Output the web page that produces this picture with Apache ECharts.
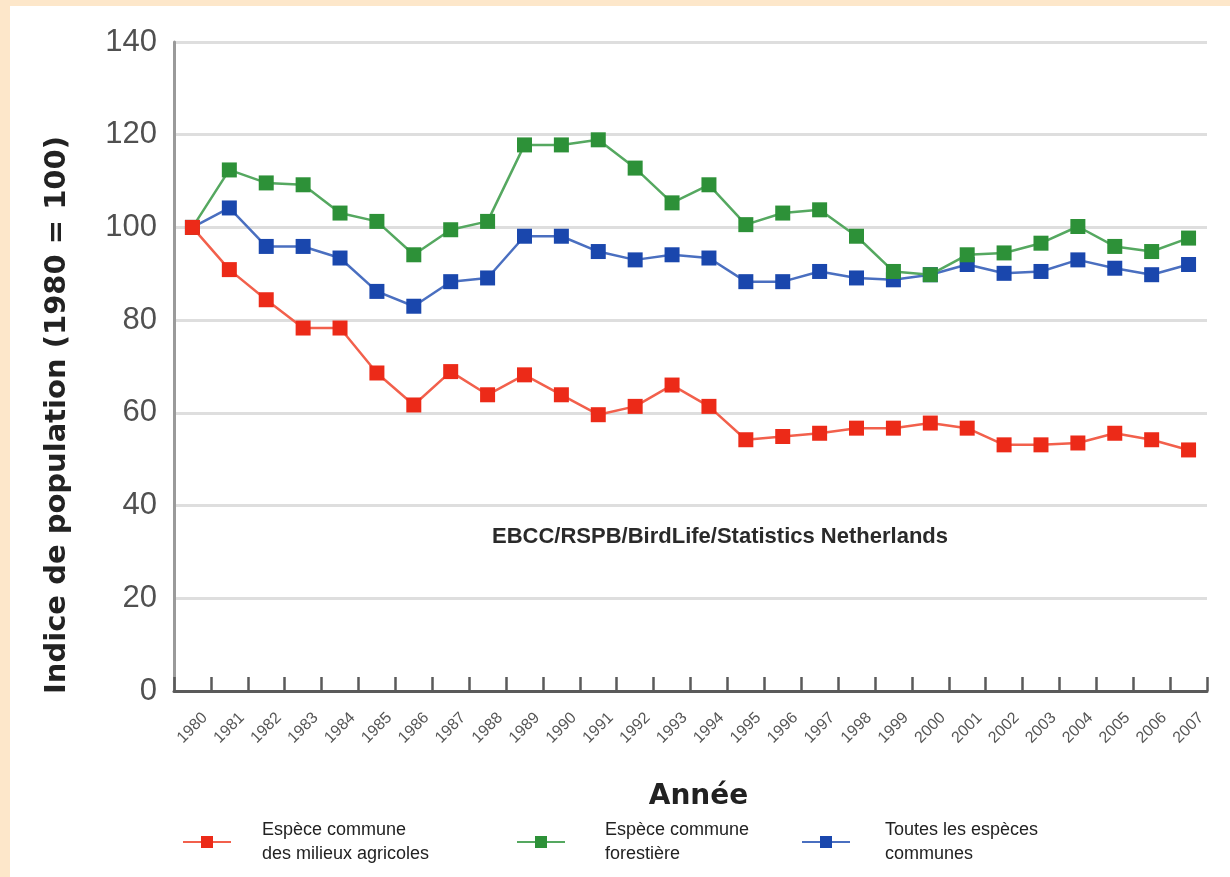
<!DOCTYPE html>
<html>
<head>
<meta charset="utf-8">
<script src="https://cdn.jsdelivr.net/npm/echarts@6/dist/echarts.min.js"></script>
<style>
  html, body { margin: 0; padding: 0; background: #ffffff; }
  #chart { width: 1230px; height: 877px; }
</style>
</head>
<body>
<div id="chart"></div>
<script>
// Years on the category axis (also the tick labels)
const years = ['1980','1981','1982','1983','1984','1985','1986','1987','1988','1989',
               '1990','1991','1992','1993','1994','1995','1996','1997','1998','1999',
               '2000','2001','2002','2003','2004','2005','2006','2007'];

// Population index per group (1980 = 100)
const agricoles = [100, 90.9, 84.4, 78.3, 78.3, 68.6, 61.7, 68.9, 63.9, 68.2,
                   63.9, 59.6, 61.4, 66.0, 61.4, 54.2, 54.9, 55.6, 56.7, 56.7,
                   57.8, 56.7, 53.1, 53.1, 53.5, 55.6, 54.2, 52.0];
const forestieres = [100, 112.4, 109.6, 109.2, 103.1, 101.3, 94.1, 99.5, 101.3, 117.8,
                     117.8, 118.9, 112.8, 105.3, 109.2, 100.6, 103.1, 103.8, 98.1, 90.5,
                     89.8, 94.1, 94.5, 96.6, 100.2, 95.9, 94.8, 97.7];
const toutes = [100, 104.2, 95.9, 95.9, 93.4, 86.2, 83.0, 88.3, 89.1, 98.1,
                98.1, 94.8, 93.0, 94.1, 93.4, 88.3, 88.3, 90.5, 89.1, 88.7,
                89.8, 92.0, 90.1, 90.5, 93.0, 91.2, 89.8, 92.0];

// Value axis range
const yMin = 0, yMax = 140, yStep = 20;

const seriesNames = {
  agri: 'Espèce commune\ndes milieux agricoles',
  foret: 'Espèce commune\nforestière',
  toutes: 'Toutes les espèces\ncommunes'
};

const chart = echarts.init(document.getElementById('chart'), null, { renderer: 'canvas' });

function lineSeries(name, data, lineColor, markColor, z) {
  return {
    name: name,
    type: 'line',
    data: data,
    z: z,
    symbol: 'rect',
    symbolSize: 15,
    showSymbol: true,
    lineStyle: { color: lineColor, width: 2.5 },
    itemStyle: { color: markColor },
    emphasis: { disabled: true },
    animation: false
  };
}

function legendFor(name, left, pad) {
  return {
    data: [name],
    left: left,
    top: 813,
    orient: 'horizontal',
    itemWidth: 48,
    itemHeight: 15,
    selectedMode: false,
    textStyle: {
      fontFamily: 'Liberation Sans, Arial, sans-serif',
      fontSize: 18,
      color: '#222',
      lineHeight: 24,
      padding: [0, 0, 0, pad]
    }
  };
}

const option = {
  backgroundColor: '#ffffff',
  animation: false,
  grid: { left: 174, right: 23, top: 42, bottom: 186, containLabel: false },
  xAxis: {
    type: 'category',
    data: years,
    boundaryGap: true,
    name: 'Année',
    nameLocation: 'middle',
    nameGap: 92,
    nameTextStyle: {
      fontFamily: 'DejaVu Sans, sans-serif',
      fontWeight: 'bold',
      fontSize: 28,
      color: '#222',
      padding: [0, 0, 0, 16]
    },
    axisLine: { show: true, lineStyle: { color: '#5a5a5a', width: 3 } },
    axisTick: { show: true, inside: true, length: 14, alignWithLabel: false,
                lineStyle: { color: '#5a5a5a', width: 2.5 } },
    axisLabel: {
      rotate: 45,
      align: 'center',
      verticalAlign: 'middle',
      margin: 37,
      interval: 0,
      fontFamily: 'Liberation Sans, Arial, sans-serif',
      fontSize: 16,
      color: '#555'
    },
    splitLine: { show: false }
  },
  yAxis: {
    type: 'value',
    min: yMin,
    max: yMax,
    interval: yStep,
    axisLine: { show: true, lineStyle: { color: '#9a9a9a', width: 3 } },
    axisTick: { show: false },
    axisLabel: {
      margin: 17,
      fontFamily: 'Liberation Sans, Arial, sans-serif',
      fontSize: 31,
      color: '#505050'
    },
    splitLine: { show: true, lineStyle: { color: '#dedede', width: 3 } }
  },
  legend: [
    legendFor(seriesNames.agri, 177, 26),
    legendFor(seriesNames.foret, 511, 35),
    legendFor(seriesNames.toutes, 796, 30)
  ],
  graphic: [
    // cream frame along the top and left edges
    { type: 'rect', left: 0, top: 0, shape: { width: 1230, height: 6 },
      style: { fill: '#fde7ca' }, silent: true, z: 100 },
    { type: 'rect', left: 0, top: 0, shape: { width: 10, height: 877 },
      style: { fill: '#fde7ca' }, silent: true, z: 100 },
    // vertical axis title
    { type: 'text', x: 57, y: 415, rotation: Math.PI / 2, silent: true,
      style: {
        text: 'Indice de population (1980 = 100)',
        fontFamily: 'DejaVu Sans, sans-serif',
        fontWeight: 'bold',
        fontSize: 29,
        fill: '#222',
        textAlign: 'center',
        textVerticalAlign: 'middle'
      } },
    // data source
    { type: 'text', x: 720, y: 537, silent: true,
      style: {
        text: 'EBCC/RSPB/BirdLife/Statistics Netherlands',
        fontFamily: 'Liberation Sans, Arial, sans-serif',
        fontWeight: 'bold',
        fontSize: 22,
        fill: '#2a2a2a',
        textAlign: 'center',
        textVerticalAlign: 'middle'
      } }
  ],
  series: [
    lineSeries(seriesNames.toutes, toutes, '#4a6fc0', '#1a47ad', 2),
    lineSeries(seriesNames.foret, forestieres, '#55a860', '#2d9138', 3),
    lineSeries(seriesNames.agri, agricoles, '#f2604c', '#ec2a18', 4)
  ]
};

chart.setOption(option);
</script>
</body>
</html>
